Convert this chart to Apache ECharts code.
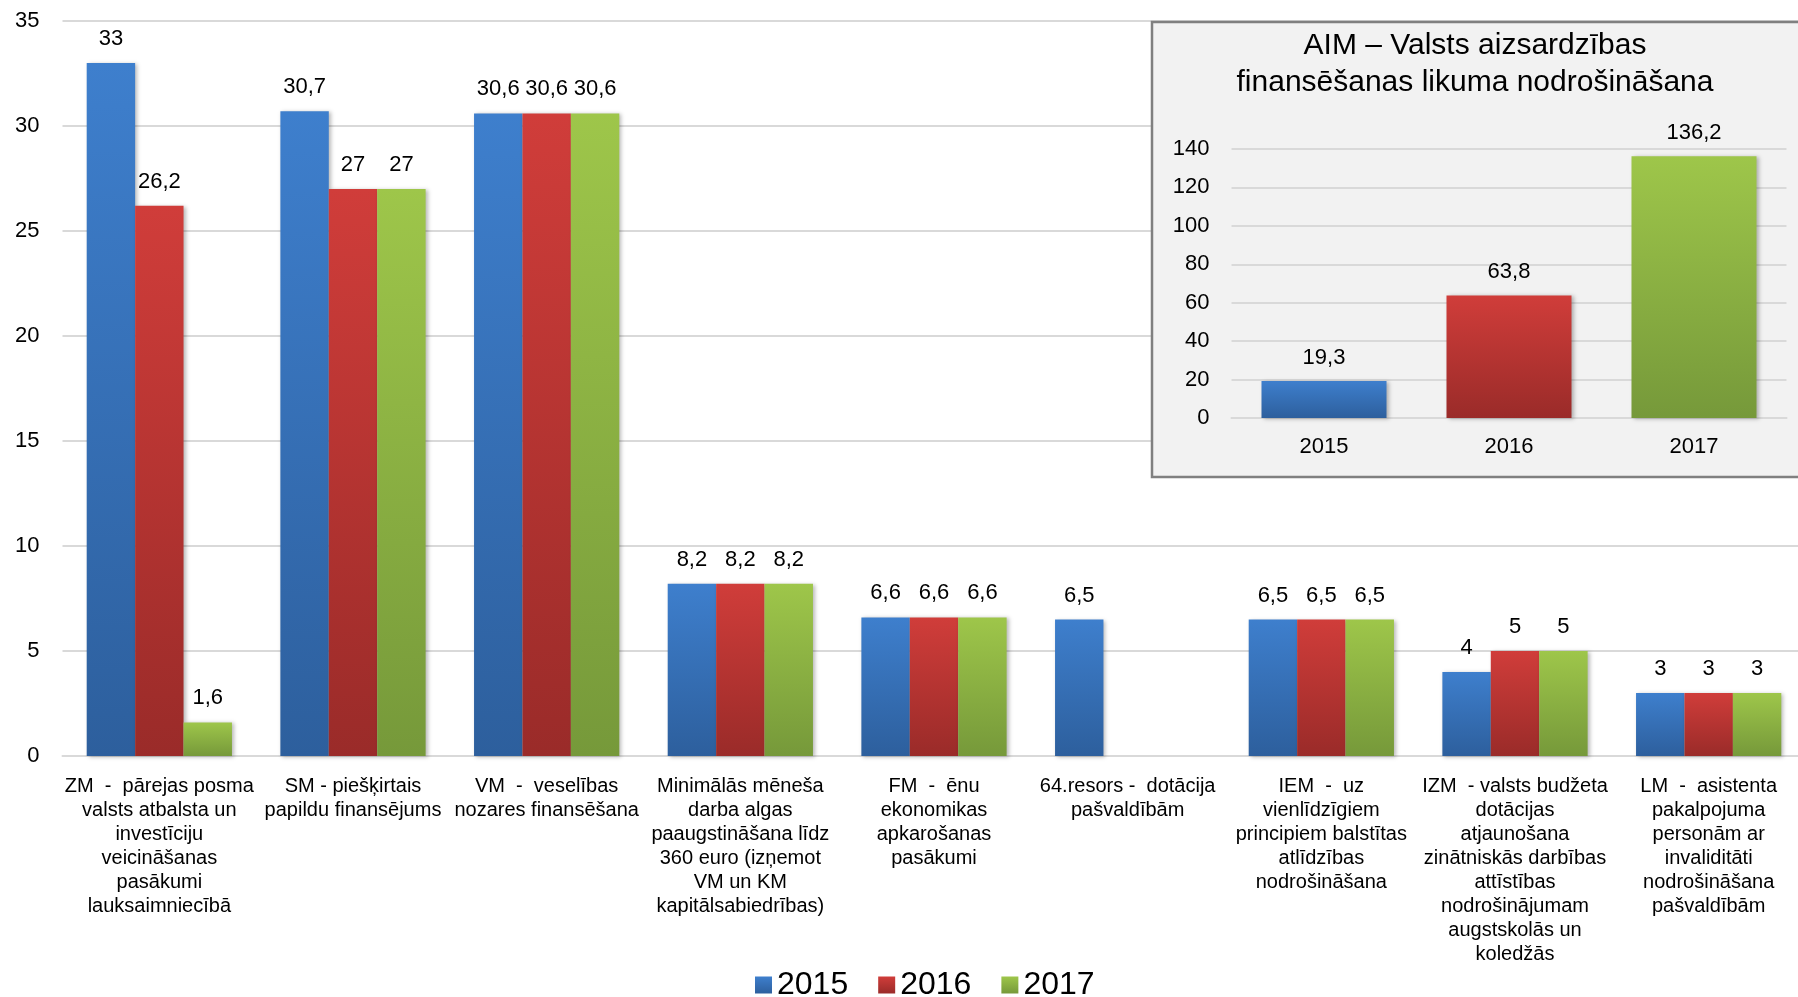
<!DOCTYPE html>
<html>
<head>
<meta charset="utf-8">
<script src="https://cdn.jsdelivr.net/npm/echarts@6/dist/echarts.min.js"></script>
<style>html,body{margin:0;padding:0;background:#fff;}#c{width:1798px;height:997px;}</style>
</head>
<body>
<div id="c"></div>
<script>
// ---- data ----
const categories = [
  "ZM  -  pārejas posma\nvalsts atbalsta un\ninvestīciju\nveicināšanas\npasākumi\nlauksaimniecībā",
  "SM - piešķirtais\npapildu finansējums",
  "VM  -  veselības\nnozares finansēšana",
  "Minimālās mēneša\ndarba algas\npaaugstināšana līdz\n360 euro (izņemot\nVM un KM\nkapitālsabiedrības)",
  "FM  -  ēnu\nekonomikas\napkarošanas\npasākumi",
  "64.resors -  dotācija\npašvaldībām",
  "IEM  -  uz\nvienlīdzīgiem\nprincipiem balstītas\natlīdzības\nnodrošināšana",
  "IZM  - valsts budžeta\ndotācijas\natjaunošana\nzinātniskās darbības\nattīstības\nnodrošinājumam\naugstskolās un\nkoledžās",
  "LM  -  asistenta\npakalpojuma\npersonām ar\ninvaliditāti\nnodrošināšana\npašvaldībām"
];
const seriesNames = ["2015", "2016", "2017"];
const values2015 = [33, 30.7, 30.6, 8.2, 6.6, 6.5, 6.5, 4, 3];
const values2016 = [26.2, 27, 30.6, 8.2, 6.6, null, 6.5, 5, 3];
const values2017 = [1.6, 27, 30.6, 8.2, 6.6, null, 6.5, 5, 3];
const mainTicks = [0, 5, 10, 15, 20, 25, 30, 35];

const insetTitle = ["AIM – Valsts aizsardzības", "finansēšanas likuma nodrošināšana"];
const insetYears = ["2015", "2016", "2017"];
const insetValues = [19.3, 63.8, 136.2];
const insetTicks = [0, 20, 40, 60, 80, 100, 120, 140];

// ---- styles ----
const FONT = "'Liberation Sans', Arial, sans-serif";
function grad(top, bottom) {
  return new echarts.graphic.LinearGradient(0, 0, 0, 1, [
    { offset: 0, color: top }, { offset: 1, color: bottom }
  ]);
}
const colors = [
  grad('#3E7FCD', '#2D5F9D'),
  grad('#D03D3A', '#9A2B29'),
  grad('#9EC64A', '#76993A')
];
const fmt = p => (p.value == null ? '' : String(p.value).replace('.', ','));
const shadow = { shadowColor: 'rgba(0,0,0,0.28)', shadowBlur: 4, shadowOffsetX: 2, shadowOffsetY: 1 };

const mainSeries = [values2015, values2016, values2017].map((vals, i) => ({
  name: seriesNames[i],
  type: 'bar',
  xAxisIndex: 0, yAxisIndex: 0,
  data: vals,
  barGap: '0%',
  barCategoryGap: '25%',
  itemStyle: Object.assign({ color: colors[i] }, shadow),
  label: {
    show: true, position: 'top', distance: 13,
    formatter: fmt, color: '#000', fontSize: 22, fontFamily: FONT
  },
  z: 2
}));

const insetSeries = {
  name: 'AIM',
  type: 'bar',
  xAxisIndex: 1, yAxisIndex: 1,
  zlevel: 1, z: 5,
  barWidth: 125,
  data: insetValues.map((v, i) => ({ value: v, itemStyle: { color: colors[i] } })),
  itemStyle: Object.assign({}, shadow),
  label: {
    show: true, position: 'top', distance: 12,
    formatter: fmt, color: '#000', fontSize: 22, fontFamily: FONT
  }
};

const option = {
  animation: false,
  backgroundColor: '#ffffff',
  textStyle: { fontFamily: FONT },
  legend: {
    data: seriesNames,
    left: 755, top: 969, padding: 0,
    itemWidth: 17, itemHeight: 17, itemGap: 30,
    icon: 'rect',
    textStyle: { fontSize: 32, color: '#000', fontFamily: FONT }
  },
  grid: [
    { left: 62.5, top: 21, width: 1743, height: 735, containLabel: false, outerBoundsMode: 'none' },
    { left: 1231.5, top: 149, width: 555, height: 269, containLabel: false, outerBoundsMode: 'none', zlevel: 1, z: 3 }
  ],
  xAxis: [
    {
      type: 'category', gridIndex: 0, data: categories,
      axisTick: { show: false },
      axisLine: { lineStyle: { color: '#D9D9D9', width: 2 } },
      axisLabel: { interval: 0, margin: 18, fontSize: 20, lineHeight: 24, color: '#000', fontFamily: FONT, align: 'center' }
    },
    {
      type: 'category', gridIndex: 1, data: insetYears, zlevel: 1, z: 4,
      axisTick: { show: false },
      axisLine: { lineStyle: { color: '#D9D9D9', width: 2 } },
      axisLabel: { margin: 18, fontSize: 22, color: '#000', fontFamily: FONT }
    }
  ],
  yAxis: [
    {
      type: 'value', gridIndex: 0, min: mainTicks[0], max: mainTicks[mainTicks.length - 1],
      interval: mainTicks[1] - mainTicks[0],
      axisLine: { show: false }, axisTick: { show: false },
      splitLine: { lineStyle: { color: '#D9D9D9', width: 2 } },
      axisLabel: { margin: 23, fontSize: 22, color: '#000', fontFamily: FONT }
    },
    {
      type: 'value', gridIndex: 1, min: insetTicks[0], max: insetTicks[insetTicks.length - 1],
      interval: insetTicks[1] - insetTicks[0], zlevel: 1, z: 4,
      axisLine: { show: false }, axisTick: { show: false },
      splitLine: { lineStyle: { color: '#D9D9D9', width: 2 } },
      axisLabel: { margin: 22, fontSize: 22, color: '#000', fontFamily: FONT }
    }
  ],
  graphic: [
    {
      type: 'rect', zlevel: 1, z: 0, silent: true,
      shape: { x: 1152, y: 22, width: 660, height: 455 },
      style: { fill: '#F2F2F2', stroke: '#808080', lineWidth: 2.5 }
    },
    {
      type: 'text', zlevel: 1, z: 10, silent: true,
      style: { x: 1475, y: 46, text: insetTitle[0], textAlign: 'center', textVerticalAlign: 'middle',
               font: "30px 'Liberation Sans', Arial, sans-serif", fill: '#000' }
    },
    {
      type: 'text', zlevel: 1, z: 10, silent: true,
      style: { x: 1475, y: 83, text: insetTitle[1], textAlign: 'center', textVerticalAlign: 'middle',
               font: "30px 'Liberation Sans', Arial, sans-serif", fill: '#000' }
    }
  ],
  series: mainSeries.concat([insetSeries])
};

const chart = echarts.init(document.getElementById('c'));
chart.setOption(option);
</script>
</body>
</html>
